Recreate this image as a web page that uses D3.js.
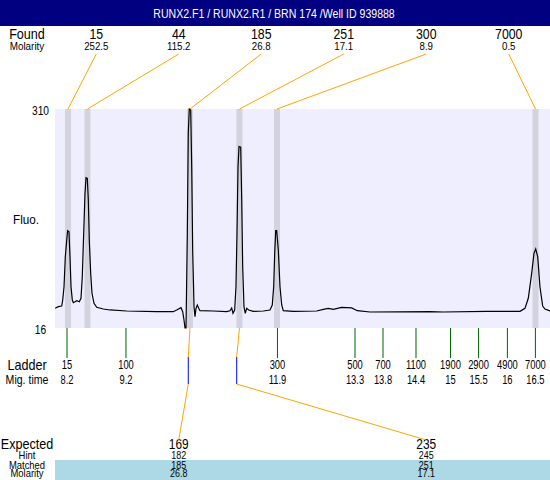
<!DOCTYPE html>
<html><head><meta charset="utf-8">
<script src="https://cdn.jsdelivr.net/npm/d3@7"></script>
<style>
body{margin:0;background:#fff}
svg{display:block}
text{font-family:"Liberation Sans",Arial,sans-serif;fill:#000}
</style>
</head><body>
<svg id="chart" width="550" height="480"></svg>
<script>
// ---------- data ----------
const title = "RUNX2.F1 / RUNX2.R1 / BRN 174 /Well ID 939888";
const timeRange = [8.0, 16.78];
const fluoRange = [16, 310];

const foundSizes    = [15, 44, 185, 251, 300, 7000];
const foundMolarity = [252.5, 115.2, 26.8, 17.1, 8.9, 0.5];
const foundTimes    = [8.231, 8.576, 10.394, 11.272, 11.938, 16.523];

const ladderSizes = [15, 100, 300, 500, 700, 1100, 1900, 2900, 4900, 7000];
const ladderTimes = [8.213, 9.259, 11.946, 13.321, 13.818, 14.403, 15.015, 15.513, 16.024, 16.521];

const expectedSizes   = [169, 235];
const hintSizes       = [182, 245];
const matchedSizes    = [185, 251];
const matchedMolarity = [26.8, 17.1];
const hintTimes       = [10.364, 11.223];

const traceTime = [8.000, 8.059, 8.119, 8.137, 8.160, 8.183, 8.208, 8.225, 8.248, 8.266, 8.284, 8.307, 8.325, 8.355, 8.385, 8.431, 8.461, 8.484, 8.509, 8.532, 8.550, 8.573, 8.591, 8.608, 8.633, 8.656, 8.692, 8.740, 8.857, 8.976, 9.272, 9.804, 10.098, 10.159, 10.235, 10.265, 10.288, 10.306, 10.324, 10.347, 10.364, 10.382, 10.407, 10.425, 10.442, 10.466, 10.483, 10.501, 10.524, 10.549, 10.572, 10.808, 11.045, 11.104, 11.134, 11.157, 11.187, 11.210, 11.228, 11.246, 11.264, 11.294, 11.312, 11.329, 11.352, 11.375, 11.400, 11.436, 11.517, 11.695, 11.813, 11.854, 11.879, 11.897, 11.915, 11.932, 11.961, 11.991, 12.021, 12.049, 12.227, 12.642, 12.759, 12.848, 12.936, 13.085, 13.263, 13.362, 13.587, 14.651, 14.887, 15.657, 16.248, 16.336, 16.395, 16.455, 16.496, 16.526, 16.562, 16.602, 16.650, 16.691, 16.780];
const traceFluo = [42.4, 44.6, 45.5, 53.6, 71.4, 111.7, 134.1, 146.6, 145.3, 111.7, 71.4, 53.6, 50.0, 51.3, 52.7, 51.3, 55.9, 84.9, 143.1, 196.8, 217.8, 217.0, 187.8, 134.1, 89.4, 62.6, 49.2, 43.8, 41.5, 40.2, 38.8, 37.9, 37.9, 40.2, 43.3, 37.9, 26.7, 16, 16, 143.1, 277.4, 310, 308.7, 232.5, 120.7, 44.6, 31.2, 42.4, 46.9, 42.4, 39.2, 38.8, 37.9, 39.2, 42.9, 35.7, 40.2, 71.4, 143.1, 232.5, 259.4, 258.6, 187.8, 98.3, 44.6, 35.7, 42.4, 40.2, 38.4, 38.8, 40.2, 46.9, 71.4, 116.3, 146.6, 146.6, 120.7, 71.4, 46.9, 39.2, 38.4, 38.8, 41.1, 42.4, 41.1, 43.8, 42.9, 39.2, 37.5, 37.9, 37.5, 38.4, 38.4, 42.4, 55.9, 89.4, 116.3, 122.1, 111.7, 71.4, 45.5, 41.5, 38.8];

// ---------- layout ----------
const svg = d3.select("#chart");
const L = 55, R = 550, T = 109, B = 328;
const x = d3.scaleLinear().domain(timeRange).range([L, R]);
const y = d3.scaleLinear().domain(fluoRange).range([B, T]);
const orange = "#FFA500", green = "#006400";
const labelX = 27;

// condensed centred text helper
function txt(px, py, str, fs, sx, color) {
  return svg.append("text")
    .attr("transform", `translate(${px},${py}) scale(${sx},1)`)
    .attr("text-anchor", "middle").attr("dominant-baseline", "central")
    .style("font-size", fs + "px").style("fill", color || "#000").text(str);
}

// title bar
svg.append("rect").attr("x", 0).attr("y", 0).attr("width", 550).attr("height", 26).attr("fill", "#000080");
txt(274, 14, title, 12, 0.88, "#fff");

// plot background
svg.append("rect").attr("x", L).attr("y", T).attr("width", R - L).attr("height", B - T).attr("fill", "#EEEEFF");

// peak bands
svg.selectAll("rect.band").data(foundTimes).join("rect").attr("class", "band")
  .attr("x", d => x(d) - 3).attr("y", T).attr("width", 6).attr("height", B - T).attr("fill", "#D3D3DF");

// trace
svg.append("defs").append("clipPath").attr("id", "clip")
  .append("rect").attr("x", L).attr("y", T - 1).attr("width", R - L).attr("height", B - T + 2);
const line = d3.line().x((d, i) => x(traceTime[i])).y(d => y(d));
svg.append("path").datum(traceFluo).attr("d", line).attr("fill", "none")
  .attr("stroke", "#000").attr("stroke-width", 1.2).attr("clip-path", "url(#clip)");

// y labels
[fluoRange[1], fluoRange[0]].forEach(d => txt(40.5, y(d) + 1.5, d, 12, 0.85));
txt(26, 220, "Fluo.", 13, 0.9);

// found row
const fb = d3.scaleBand().domain(d3.range(foundSizes.length)).range([L, R]);
const fcx = i => fb(i) + fb.bandwidth() / 2;
txt(labelX, 34, "Found", 14, 0.9);
txt(labelX, 46.5, "Molarity", 11, 0.9);
foundSizes.forEach((s, i) => {
  txt(fcx(i), 34, s, 14, 0.88);
  txt(fcx(i), 46.5, foundMolarity[i], 11, 0.88);
  svg.append("line").attr("x1", fcx(i)).attr("y1", 54).attr("x2", x(foundTimes[i])).attr("y2", T)
    .attr("stroke", orange).attr("stroke-width", 1);
});

// ladder
svg.selectAll("line.lad").data(ladderTimes).join("line").attr("class", "lad")
  .attr("x1", d => x(d)).attr("x2", d => x(d)).attr("y1", B).attr("y2", 358)
  .attr("stroke", green).attr("stroke-width", 1);
txt(labelX, 365, "Ladder", 14, 0.9);
txt(labelX, 380, "Mig. time", 12, 0.88);
const migFmt = d => d3.format(".1~f")(Math.floor(d * 10 + 1e-9) / 10);
ladderSizes.forEach((s, i) => {
  txt(x(ladderTimes[i]), 365, s, 12, 0.78);
  txt(x(ladderTimes[i]), 380, migFmt(ladderTimes[i]), 12, 0.78);
});

// bottom table
svg.append("rect").attr("x", L).attr("y", 460).attr("width", R - L).attr("height", 20).attr("fill", "#ADD8E6");
const eb = d3.scaleBand().domain(d3.range(expectedSizes.length)).range([L, R]);
const ecx = i => eb(i) + eb.bandwidth() / 2;
const rows = [
  {name: "Expected", vals: expectedSizes, y: 444, fs: 14},
  {name: "Hint", vals: hintSizes, y: 455, fs: 10.5},
  {name: "Matched", vals: matchedSizes, y: 465, fs: 10.5},
  {name: "Molarity", vals: matchedMolarity, y: 473.5, fs: 10.5}
];
rows.forEach(r => {
  txt(labelX, r.y, r.name, r.fs, 0.9);
  r.vals.forEach((v, i) => txt(ecx(i), r.y, v, r.fs, 0.85));
});

// match connectors
matchedSizes.forEach((m, i) => {
  const pt = foundTimes[foundSizes.indexOf(m)];
  const hx = x(hintTimes[i]);
  svg.append("line").attr("x1", x(pt)).attr("y1", B).attr("x2", hx).attr("y2", 357).attr("stroke", orange);
  svg.append("line").attr("x1", hx).attr("x2", hx).attr("y1", 357).attr("y2", 384).attr("stroke", "#0000FF");
  svg.append("line").attr("x1", hx).attr("y1", 384).attr("x2", ecx(i)).attr("y2", 440).attr("stroke", orange);
});
</script>
</body></html>
